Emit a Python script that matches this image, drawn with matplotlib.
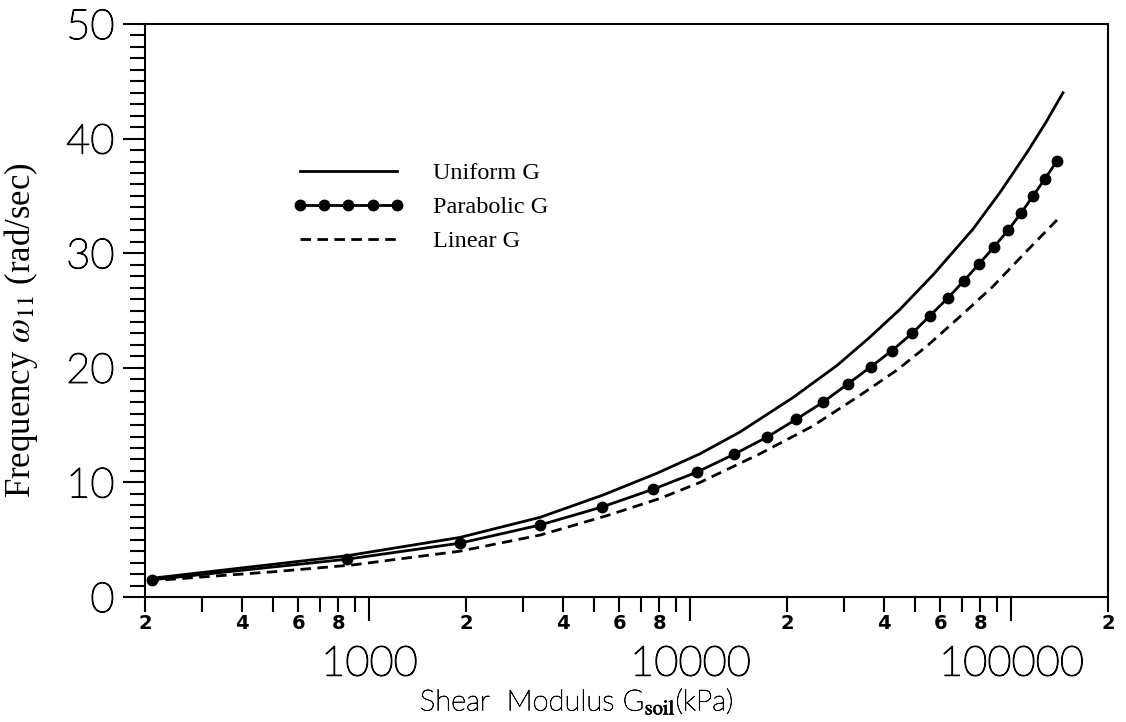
import numpy as np
import matplotlib
matplotlib.use("Agg")
import matplotlib.pyplot as plt
import matplotlib.patheffects as pe
from matplotlib.ticker import FixedLocator, FuncFormatter

plt.rcParams['mathtext.fontset'] = 'stix'

# ---- data ----
g_uniform = [205, 501, 852, 1916, 3400, 5346, 7872, 10720, 14280, 20870, 28620, 36000,
             44980, 56980, 75920, 92180, 111900, 128000, 144800]
w_uniform = [1.6, 2.85, 3.6, 5.2, 6.95, 8.9, 10.8, 12.5, 14.4, 17.4, 20.2, 22.6,
             25.1, 28.1, 32.1, 35.3, 38.8, 41.4, 44.0]

g_parabolic = [210, 852, 1916, 3400, 5300, 7650, 10490, 13670, 17330, 21340, 25900, 30970,
               36540, 42470, 49030, 55800, 63480, 71180, 79260, 88300, 97640, 107200,
               116800, 127300, 138700]
w_parabolic = [1.5, 3.3, 4.7, 6.28, 7.85, 9.4, 10.9, 12.45, 13.95, 15.5, 17.0, 18.6,
               20.1, 21.5, 23.0, 24.55, 26.1, 27.6, 29.05, 30.55, 32.0, 33.5,
               35.0, 36.5, 38.05]

g_linear = [205, 501, 889, 1916, 3400, 5500, 8040, 10720, 16480, 24000, 33770, 44000,
            54600, 70000, 87600, 110000, 138700]
w_linear = [1.4, 2.2, 2.8, 4.0, 5.4, 7.1, 8.6, 10.0, 12.5, 14.9, 17.6, 19.8,
            21.9, 24.6, 27.1, 30.0, 32.9]

legend_labels = ["Uniform G", "Parabolic G", "Linear G"]
decade_ticks = [1000, 10000, 100000]
decade_labels = ["1000", "10000", "100000"]
y_ticks = [0, 10, 20, 30, 40, 50]

thin = "Lato"
serif = "Liberation Serif"
bolden = [pe.withStroke(linewidth=0.9, foreground='black')]

fig = plt.figure(figsize=(11.26, 7.22), dpi=100)
ax = fig.add_axes([145/1126, 1-597/722, (1108-145)/1126, (597-24)/722])

lw = 2.0
ax.plot(g_uniform, w_uniform, '-', color='black', lw=lw, label=legend_labels[0])
ax.plot(g_parabolic, w_parabolic, '-', color='black', lw=lw, marker='o', ms=7.5,
        label=legend_labels[1])
ax.plot(g_linear, w_linear, '--', color='black', lw=lw, dashes=(3.8, 2.3), label=legend_labels[2])

ax.set_xscale('log')
ax.set_xlim(200, 200000)
ax.set_ylim(0, 50)

for s in ax.spines.values():
    s.set_linewidth(1.5)

# x ticks
minor_locs = []
for dec in [100, 1000, 10000, 100000]:
    for m in range(2, 10):
        v = m * dec
        if 200 <= v <= 200000:
            minor_locs.append(v)
ax.xaxis.set_major_locator(FixedLocator(decade_ticks))
ax.xaxis.set_minor_locator(FixedLocator(minor_locs))
ax.set_xticklabels(decade_labels)

def minor_fmt(v, pos):
    m = int(round(v / 10 ** np.floor(np.log10(v) + 1e-9)))
    return str(m) if m in (2, 4, 6, 8) else ""
ax.xaxis.set_minor_formatter(FuncFormatter(minor_fmt))

ax.tick_params(axis='x', which='major', direction='out', length=17, width=1.5, pad=18,
               labelsize=30)
ax.tick_params(axis='x', which='minor', direction='out', length=11, width=1.5, pad=1.5,
               labelsize=14)
for lab in ax.get_xticklabels(minor=True):
    lab.set_fontweight('bold')
    lab.set_family('DejaVu Sans')
for lab in ax.get_xticklabels():
    lab.set_family(thin)
    lab.set_fontweight('light')
    lab.set_path_effects(bolden)

# y ticks
ax.set_yticks(y_ticks)
ax.set_yticks(np.arange(0, 51, 1), minor=True)
ax.tick_params(axis='y', which='major', direction='out', length=16, width=1.5, pad=6,
               labelsize=30)
ax.tick_params(axis='y', which='minor', direction='out', length=11, width=1.5)
for lab in ax.get_yticklabels():
    lab.set_family(thin)
    lab.set_fontweight('light')
    lab.set_path_effects(bolden)

ax.set_ylabel(r"Frequency $\omega_{11}$ (rad/sec)", fontsize=25, family=serif)
ax.yaxis.set_label_coords(-0.109, 0.466)

xl = ax.set_xlabel(r"Shear  Modulus G$_{\rm soil}$(kPa)", fontsize=21, family=thin,
                   fontweight='light')
xl.set_path_effects([pe.withStroke(linewidth=0.5, foreground='black')])
ax.xaxis.set_label_coords(0.448, -0.155)

leg = ax.legend(loc='upper left', bbox_to_anchor=(0.153, 0.759), frameon=False,
                prop={'family': serif, 'size': 17.5}, handlelength=4.6, handletextpad=1.2,
                labelspacing=0.5, borderpad=0, borderaxespad=0, numpoints=5)

fig.savefig("out.png", dpi=100)
